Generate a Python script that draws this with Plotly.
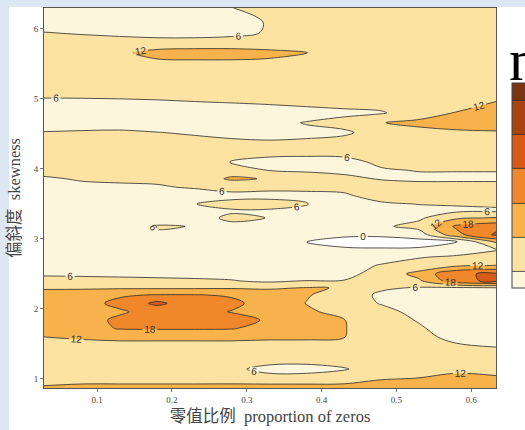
import plotly.graph_objects as go

# Grid of the surface: proportion of zeros (x) by skewness (y)
zero_prop = [0.029, 0.08, 0.13, 0.18, 0.23, 0.28, 0.33, 0.38, 0.43, 0.48, 0.53, 0.58, 0.633]
skewness = [0.87, 1.00, 1.14, 1.30, 1.45, 1.60, 1.72, 1.84, 1.96, 2.08, 2.20, 2.30,
            2.40, 2.50, 2.62, 2.74, 2.85, 2.96, 3.06, 3.18, 3.30, 3.40, 3.50, 3.62,
            3.74, 3.86, 3.98, 4.10, 4.24, 4.38, 4.52, 4.66, 4.80, 4.95, 5.10, 5.30,
            5.50, 5.66, 5.80, 5.95, 6.10, 6.30]

# n at each grid node, one row per skewness value (bottom to top)
n_grid = [
    [13, 14, 14, 14, 14, 14.5, 15, 15, 15, 15, 15, 16, 16],
    [9, 9.5, 9.5, 9.5, 9.5, 9, 8, 8, 8.5, 11.7, 12.3, 14, 13],
    [9, 9, 9, 9, 9, 7, 4.5, 4.5, 5.7, 8, 9.5, 10.5, 10],
    [9, 9, 9, 9, 9, 9, 8.5, 8, 8, 8, 9, 9, 9],
    [9, 9.5, 9.5, 9.5, 9.5, 9.5, 9.5, 9.5, 9, 8.5, 8.5, 7, 6.1],
    [12.0, 12.8, 13.5, 13.5, 13.5, 13.5, 13, 13, 12.2, 8, 7.5, 4.5, 3],
    [14, 16, 18.3, 18.5, 18.5, 18.3, 16, 14, 12.3, 8, 6.5, 4, 3],
    [14.5, 16.5, 18.7, 20, 20, 19.5, 17.5, 14, 12.2, 8, 5.7, 3.5, 3],
    [14.5, 15, 17.5, 19.5, 19.5, 17.8, 16, 13, 10, 7.5, 4.5, 3, 3],
    [14.5, 16.5, 19, 25.5, 20, 19, 16, 11.8, 8.5, 5.7, 4, 3, 3],
    [14.5, 15, 17.5, 18.2, 18.2, 17.5, 15, 12.5, 9, 5, 4, 3, 3],
    [11.3, 11.3, 11.3, 11.3, 11.3, 11.5, 11.3, 12.3, 11.8, 6.8, 5.5, 5, 5.5],
    [8, 7.8, 7.5, 7.2, 6.8, 6.3, 5, 6.1, 6.2, 8, 11, 22, 25.5],
    [5.2, 5.0, 4.8, 4.6, 4.5, 4.3, 4.5, 4.8, 4.5, 8, 14, 23, 25],
    [4, 4, 4, 4, 4, 4.2, 4.2, 4.2, 4.5, 6.3, 8, 11, 12.2],
    [4, 4, 4, 4, 4, 4, 4, 4, 4.5, 4.5, 5.7, 6.8, 7],
    [3.5, 3.5, 3.5, 3.5, 3.5, 3.5, 3, 2, 0.8, 0.6, 0.7, 3, 5.8],
    [3, 3, 3, 3, 3, 3, 3, -0.1, -2, -2.5, -2, -0.3, 13],
    [4, 4, 4, 5.5, 4, 4, 3.5, 2, 1, 1, 3, 16, 25],
    [4, 4, 4, 6.3, 5.9, 5, 4, 3.5, 3, 5, 8, 19, 22],
    [4, 4, 4, 4, 4.5, 6.8, 5.9, 4, 3.5, 4, 5, 11, 12.5],
    [3.5, 3.5, 3.5, 3.5, 4.5, 5.5, 5.5, 4.5, 4, 4.5, 5, 5, 5.2],
    [3.5, 3.5, 3.5, 4, 5.9, 7.5, 7.5, 6.2, 4, 5.5, 6.1, 6.4, 6.8],
    [4, 4, 4, 4, 4.5, 4.5, 4.8, 5, 5.5, 7.5, 7.5, 8, 8],
    [4.5, 5.3, 5.5, 5.7, 6.3, 8, 7, 7, 7, 8, 8, 8, 8],
    [5.6, 6.3, 6.5, 6.6, 9, 12.8, 11.6, 8.0, 7.0, 5.7, 5, 5, 5],
    [7, 7.5, 7.8, 8, 8.5, 9.5, 5.9, 5.5, 5, 5.5, 6.2, 6.2, 6.2],
    [8.5, 8.5, 8.5, 8.5, 7.5, 5.8, 4.5, 4, 4.5, 7, 8, 8, 8],
    [8.5, 8.5, 8.5, 8.5, 8, 7.5, 7.5, 7.5, 7.5, 8.5, 9, 9, 9],
    [8, 8, 8, 7.5, 7, 6.5, 6.3, 6.5, 7.5, 9, 9, 9, 9],
    [6.2, 6.5, 6.7, 6.1, 5.6, 5.2, 5.0, 5.2, 5.3, 8, 10, 11, 11.5],
    [4, 4, 4, 4, 4, 4.5, 5, 6.2, 7.5, 11.8, 13.5, 14.5, 14.5],
    [3.5, 3.5, 3.5, 3.5, 3.5, 3.8, 4, 4.5, 5, 5.5, 9, 12.3, 14.5],
    [4.9, 5.0, 5.2, 5.4, 5.8, 6.1, 6.5, 7, 7.5, 8, 9, 10, 12.2],
    [7.5, 7.5, 7.5, 7.8, 8, 8, 8.3, 8.5, 8.8, 9, 9.2, 9.5, 10],
    [9, 9, 9, 9, 9, 9, 9, 9, 9, 9, 9, 9, 9],
    [9, 9, 9.5, 10.5, 10.5, 10.5, 10.5, 10, 9, 8.5, 8.5, 8.5, 8.5],
    [9, 9.5, 11, 13.8, 14.5, 14.5, 13.5, 12.3, 9, 8.5, 8.5, 8.5, 8.5],
    [8, 8, 8.5, 8.5, 8.5, 8.5, 8.5, 8.5, 8.5, 8.5, 8.5, 8.5, 8.5],
    [6.1, 5.5, 4.5, 3.5, 3.5, 4.5, 6.5, 8.5, 8.5, 8.5, 8.5, 8.5, 8.5],
    [3.5, 3.5, 3, 3, 3, 4.5, 6.3, 8, 9, 9, 9, 9, 9],
    [3, 3, 3, 3, 4, 5.9, 8, 9, 9, 9, 9, 9, 9],
]

# Fill colours for the bins 0-6, 6-12, ..., 36-42
bin_colors = ["#fef6dc", "#fde3a2", "#f8b24c", "#f0872a", "#d75a16", "#a8450f", "#7a3512"]
x_ticks = [0.1, 0.2, 0.3, 0.4, 0.5, 0.6]
x_tick_text = ["0.1", "0.2", "0.3", "0.4", "0.5", "0.6"]
y_ticks = [1, 2, 3, 4, 5, 6]

line_col = "#2a2a2a"
label_font = dict(size=10, color="#333333", family="Liberation Sans, Arial")

n_bins = len(bin_colors)
scale = [[i / (n_bins - 1), c] for i, c in enumerate(bin_colors)]

fig = go.Figure()

fig.add_trace(go.Contour(
    x=zero_prop, y=skewness, z=n_grid,
    autocontour=False,
    contours=dict(start=6, end=36, size=6, coloring="fill",
                  showlines=True, showlabels=True, labelfont=label_font),
    colorscale=scale,
    line=dict(color=line_col, width=0.8, smoothing=1),
    hoverinfo="skip",
    colorbar=dict(
        x=(512 - 44) / 452, xanchor="left", xpad=0,
        y=(388 - 185.5) / 380, yanchor="middle", ypad=0,
        len=205 / 380, lenmode="fraction", thickness=30,
        outlinewidth=1, outlinecolor="#444444",
        showticklabels=False, ticks="",
    ),
))

# Region where the surface drops below zero, left unfilled (white)
fig.add_trace(go.Contour(
    x=zero_prop, y=skewness, z=n_grid,
    contours=dict(type="constraint", operation=">=", value=0,
                  showlabels=True, labelfont=label_font),
    fillcolor="#ffffff",
    line=dict(color=line_col, width=0.8, smoothing=1),
    showscale=False, hoverinfo="skip",
))

axis_font = dict(size=9, color="#444444", family="Liberation Serif, Times New Roman")
title_font = dict(size=16.5, color="#444444",
                  family="Liberation Serif, Times New Roman, Noto Sans CJK SC")

fig.update_layout(
    width=525, height=430,
    margin=dict(l=44, r=29, t=8, b=42, autoexpand=False),
    paper_bgcolor="#dde7f3",
    plot_bgcolor="#ffffff",
    showlegend=False,
    xaxis=dict(range=[0.029, 0.633], tickvals=x_ticks, ticktext=x_tick_text,
               ticks="outside", ticklen=3, tickcolor="#777777", tickfont=axis_font,
               showline=True, linecolor="#555555", linewidth=1, mirror=True,
               showgrid=False, zeroline=False,
               title=dict(text="零值比例  proportion of zeros", font=title_font, standoff=6)),
    yaxis=dict(range=[0.87, 6.3], tickvals=y_ticks,
               ticks="outside", ticklen=3, tickcolor="#777777", tickfont=axis_font,
               showline=True, linecolor="#555555", linewidth=1, mirror=True,
               showgrid=False, zeroline=False,
               title=dict(text="偏斜度  skewness", font=title_font, standoff=8)),
    shapes=[dict(type="rect", xref="paper", yref="paper", layer="below",
                 x0=(9 - 44) / 452, x1=1.3, y0=-0.3, y1=(388 - 7) / 380,
                 fillcolor="#ffffff", line=dict(width=0))],
    # colour-key heading above the bar
    annotations=[dict(text="n", xref="paper", yref="paper",
                      x=(507 - 44) / 452, y=(388 - 60) / 380,
                      xanchor="left", yanchor="middle", showarrow=False,
                      font=dict(size=60, family="Liberation Serif, Times New Roman",
                                color="#000000"))],
)

fig.write_html("out.html")
